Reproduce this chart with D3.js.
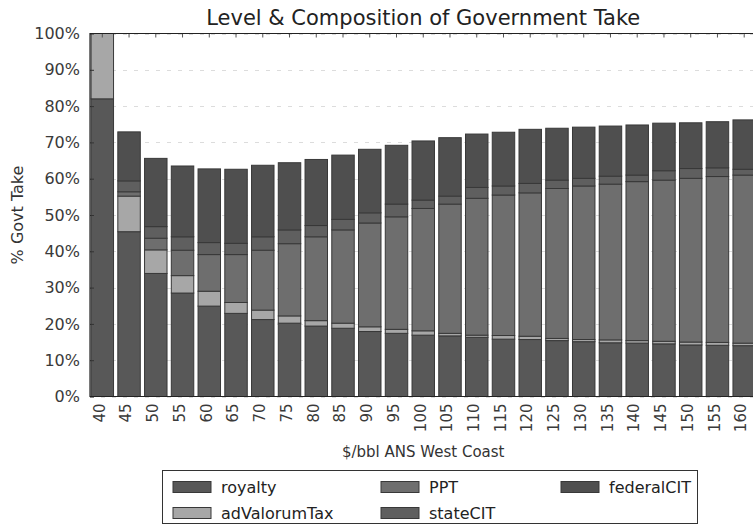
<!DOCTYPE html>
<html>
<head>
<meta charset="utf-8">
<script src="https://cdn.jsdelivr.net/npm/d3@7"></script>
<style>
  html, body { margin: 0; padding: 0; background: #fff; }
  svg { display: block; font-family: "DejaVu Sans", sans-serif; }
</style>
</head>
<body>
<svg id="chart" width="753" height="529"></svg>
<script>
// ANS West Coast oil price, $/bbl
const prices = [40, 45, 50, 55, 60, 65, 70, 75, 80, 85, 90, 95, 100, 105, 110, 115, 120, 125, 130, 135, 140, 145, 150, 155, 160];

// Government take by component, % of net value
const royalty      = [82.0, 45.4, 33.9, 28.5, 24.9, 22.9, 21.2, 20.2, 19.4, 18.8, 17.9, 17.4, 16.9, 16.7, 16.3, 15.8, 15.7, 15.4, 15.1, 14.8, 14.7, 14.5, 14.2, 14.1, 14.0];
const adValorumTax = [18.0,  9.8,  6.5,  4.8,  4.1,  3.0,  2.6,  2.0,  1.5,  1.4,  1.3,  1.1,  1.2,  0.7,  0.6,  1.0,  0.9,  0.6,  0.6,  0.8,  0.7,  0.7,  0.8,  0.8,  0.7];
const PPT          = [ 0.0,  1.2,  3.2,  7.0, 10.1, 13.2, 16.5, 19.9, 23.1, 25.7, 28.6, 31.0, 33.7, 35.6, 37.7, 38.7, 39.5, 41.3, 42.3, 42.9, 43.8, 44.4, 45.1, 45.7, 46.3];
const stateCIT     = [ 0.0,  3.0,  3.2,  3.7,  3.3,  3.1,  3.7,  3.8,  3.1,  2.9,  2.8,  3.5,  2.3,  2.2,  3.0,  2.5,  2.6,  2.3,  2.1,  2.2,  1.8,  2.6,  2.7,  2.4,  1.6];
const federalCIT   = [ 0.0, 13.5, 18.8, 19.5, 20.3, 20.4, 19.7, 18.5, 18.2, 17.7, 17.5, 16.2, 16.3, 16.1, 14.7, 14.8, 14.9, 14.3, 14.1, 13.8, 13.8, 13.1, 12.6, 12.7, 13.6];

const yTicks = [0, 10, 20, 30, 40, 50, 60, 70, 80, 90, 100];

const keys = ["royalty", "adValorumTax", "PPT", "stateCIT", "federalCIT"];
const series = { royalty, adValorumTax, PPT, stateCIT, federalCIT };
const colors = {
  royalty: "#585858",
  adValorumTax: "#a7a7a7",
  PPT: "#6e6e6e",
  stateCIT: "#5f5f5f",
  federalCIT: "#4f4f4f"
};

const rows = prices.map((p, i) => {
  const r = { price: p };
  keys.forEach(k => r[k] = series[k][i]);
  return r;
});

const svg = d3.select("#chart");
const plot = { left: 90, top: 33.5, right: 756.5, bottom: 396.5 };

const x = d3.scaleBand()
  .domain(prices)
  .range([plot.left, plot.right])
  .paddingInner(0.16)
  .paddingOuter(0.04);

const y = d3.scaleLinear()
  .domain([0, 100])
  .range([plot.bottom, plot.top]);

const stack = d3.stack().keys(keys)(rows);

// dashed horizontal grid behind the bars
svg.append("g")
  .selectAll("line")
  .data(yTicks)
  .join("line")
  .attr("x1", plot.left).attr("x2", plot.right)
  .attr("y1", d => Math.round(y(d)) + 0.5).attr("y2", d => Math.round(y(d)) + 0.5)
  .attr("stroke", "#dcdcdc")
  .attr("stroke-width", 1)
  .attr("stroke-dasharray", "4,7");

// stacked bars
svg.append("g")
  .selectAll("g")
  .data(stack)
  .join("g")
  .attr("fill", d => colors[d.key])
  .selectAll("rect")
  .data(d => d)
  .join("rect")
  .attr("x", d => x(d.data.price))
  .attr("width", x.bandwidth())
  .attr("y", d => y(Math.min(d[1], 100)))
  .attr("height", d => Math.max(0, y(d[0]) - y(Math.min(d[1], 100))))
  .attr("stroke", "#383838")
  .attr("stroke-width", 1);

// y axis
const yAxis = svg.append("g")
  .attr("transform", `translate(${plot.left},0)`)
  .call(d3.axisLeft(y).tickValues(yTicks).tickFormat(d => d + "%").tickSize(-4).tickPadding(10));
yAxis.select(".domain").remove();
yAxis.selectAll("line").attr("stroke", "#333");
yAxis.selectAll("text")
  .attr("fill", "#3a3a3a")
  .style("font-size", "16px")
  .style("font-family", "DejaVu Sans");

// x axis (bottom labels)
const xAxis = svg.append("g")
  .attr("transform", `translate(0,${plot.bottom})`)
  .call(d3.axisBottom(x).tickSize(0).tickPadding(0));
xAxis.select(".domain").remove();
xAxis.selectAll("text")
  .attr("transform", "rotate(-90)")
  .attr("text-anchor", "end")
  .attr("x", -7)
  .attr("y", -3)
  .attr("dy", "0.35em")
  .attr("fill", "#3a3a3a")
  .style("font-size", "15px")
  .style("font-family", "DejaVu Sans");

// top ticks pointing inward
svg.append("g")
  .attr("transform", `translate(0,${plot.top})`)
  .call(d3.axisTop(x).tickSize(-4).tickFormat(""))
  .call(g => g.select(".domain").remove())
  .selectAll("line").attr("stroke", "#555");

// frame
svg.append("path")
  .attr("d", `M${plot.right},${plot.top}H${plot.left}V${plot.bottom}H${plot.right}`)
  .attr("fill", "none")
  .attr("stroke", "#222")
  .attr("stroke-width", 1.2);

// title and axis titles
svg.append("text")
  .attr("x", (plot.left + plot.right) / 2)
  .attr("y", 25)
  .attr("text-anchor", "middle")
  .attr("fill", "#222")
  .style("font-size", "21px")
  .text("Level & Composition of Government Take");

svg.append("text")
  .attr("x", (plot.left + plot.right) / 2)
  .attr("y", 457)
  .attr("text-anchor", "middle")
  .attr("fill", "#333")
  .style("font-size", "15px")
  .text("$/bbl ANS West Coast");

svg.append("text")
  .attr("transform", `translate(23,${(plot.top + plot.bottom) / 2}) rotate(-90)`)
  .attr("text-anchor", "middle")
  .attr("fill", "#333")
  .style("font-size", "16px")
  .text("% Govt Take");

// legend
const legend = svg.append("g");
legend.append("rect")
  .attr("x", 162.5).attr("y", 470.5)
  .attr("width", 535).attr("height", 53)
  .attr("fill", "#fff")
  .attr("stroke", "#333")
  .attr("stroke-width", 1);

const legendPos = [
  { key: "royalty", x: 173, y: 487 },
  { key: "adValorumTax", x: 173, y: 513 },
  { key: "PPT", x: 381, y: 487 },
  { key: "stateCIT", x: 381, y: 513 },
  { key: "federalCIT", x: 561, y: 487 }
];
const item = legend.selectAll("g.item")
  .data(legendPos)
  .join("g")
  .attr("class", "item")
  .attr("transform", d => `translate(${d.x},${d.y})`);
item.append("rect")
  .attr("x", 0).attr("y", -5.5)
  .attr("width", 38).attr("height", 11)
  .attr("fill", d => colors[d.key])
  .attr("stroke", "#383838");
item.append("text")
  .attr("x", 48)
  .attr("dy", "0.35em")
  .attr("fill", "#222")
  .style("font-size", "16px")
  .text(d => d.key);
</script>
</body>
</html>
